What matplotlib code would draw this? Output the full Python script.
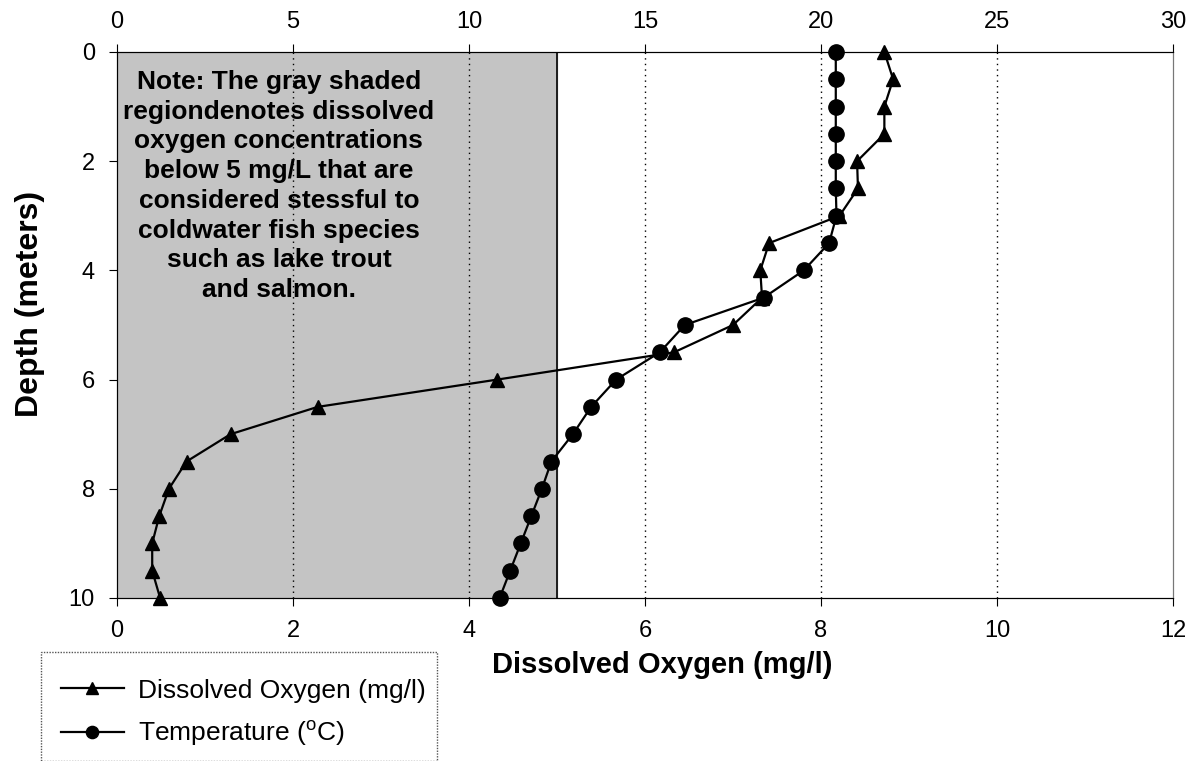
import numpy as np
import matplotlib.pyplot as plt
from matplotlib.patches import Rectangle

plt.rcParams['font.family'] = ['Liberation Sans', 'DejaVu Sans']

# profondeur (m), un point tous les 0.5 m
depth = [0, 0.5, 1, 1.5, 2, 2.5, 3, 3.5, 4, 4.5, 5, 5.5, 6, 6.5, 7, 7.5, 8, 8.5, 9, 9.5, 10]

# oxygene dissous (mg/l), axe du bas
dissolved_oxygen = [8.72, 8.82, 8.72, 8.72, 8.41, 8.42, 8.21, 7.41, 7.31, 7.33, 7.00,
                    6.33, 4.32, 2.28, 1.29, 0.79, 0.59, 0.48, 0.40, 0.40, 0.49]

# temperature (degC), axe du haut
temperature = [20.42, 20.42, 20.42, 20.42, 20.42, 20.42, 20.44, 20.23, 19.51, 18.37, 16.13,
               15.42, 14.18, 13.47, 12.95, 12.34, 12.07, 11.77, 11.47, 11.17, 10.87]

do_ticks = [0, 2, 4, 6, 8, 10, 12]
temp_ticks = [0, 5, 10, 15, 20, 25, 30]
depth_ticks = [0, 2, 4, 6, 8, 10]
stress_limit = 5

note = ("Note: The gray shaded\nregiondenotes dissolved\noxygen concentrations\n"
        "below 5 mg/L that are\nconsidered stessful to\ncoldwater fish species\n"
        "such as lake trout\nand salmon.")

fig = plt.figure(figsize=(11.93, 7.61), dpi=100)
ax = fig.add_axes([117/1193, 1 - 598/761, (1173 - 117)/1193, (598 - 52)/761])

# zone grise < 5 mg/L
ax.axvspan(0, stress_limit, color='#c4c4c4', zorder=0)
ax.plot([stress_limit, stress_limit], [0, 10], color='black', lw=1.2, zorder=1)

for x in do_ticks[1:-1]:
    ax.axvline(x, color='black', lw=1, ls=(0, (1, 3)), zorder=1)

l1, = ax.plot(dissolved_oxygen, depth, color='black', lw=1.6, marker='^',
              markersize=10.5, zorder=3, clip_on=False)
ax.set_xlim(0, 12)
ax.set_ylim(10, 0)
ax.set_xticks(do_ticks)
ax.set_yticks(depth_ticks)
ax.tick_params(labelsize=17, direction='out', length=6, pad=10)
ax.spines['right'].set_color('#777777')

ax2 = ax.twiny()
l2, = ax2.plot(temperature, depth, color='black', lw=1.6, marker='o',
               markersize=11, zorder=3, clip_on=False)
ax2.set_xlim(0, 30)
ax2.set_xticks(temp_ticks)
ax2.tick_params(labelsize=17, direction='out', length=6, pad=8)
ax2.spines['right'].set_color('#777777')

ax.text(1.84, 0.33, note, ha='center', va='top', fontsize=19, fontweight='bold',
        linespacing=1.3, zorder=2)

fig.text(30/1193, 1 - 304/761, 'Depth (meters)', rotation=90, ha='center', va='center',
         fontsize=23, fontweight='bold')
fig.text(492/1193, 1 - 665/761, 'Dissolved Oxygen (mg/l)', ha='left', va='center',
         fontsize=21, fontweight='bold')

# legende en bas a gauche
fig.patches.append(Rectangle((40.7/1193, 0), (437 - 40.7)/1193, 1 - 653/761 + 0.001,
                             transform=fig.transFigure, fill=False, ec='#555555',
                             lw=1, ls=(0, (1, 1))))
fig.legend([l1, l2], ['Dissolved Oxygen (mg/l)', 'Temperature ($^\\mathregular{o}$C)'],
           loc='upper left', bbox_to_anchor=(50/1193, 1 - 668/761), frameon=False,
           fontsize=19, handlelength=2.4, handletextpad=0.55, labelspacing=0.6,
           markerscale=0.8, borderaxespad=0)

fig.savefig('out.png', dpi=100)
